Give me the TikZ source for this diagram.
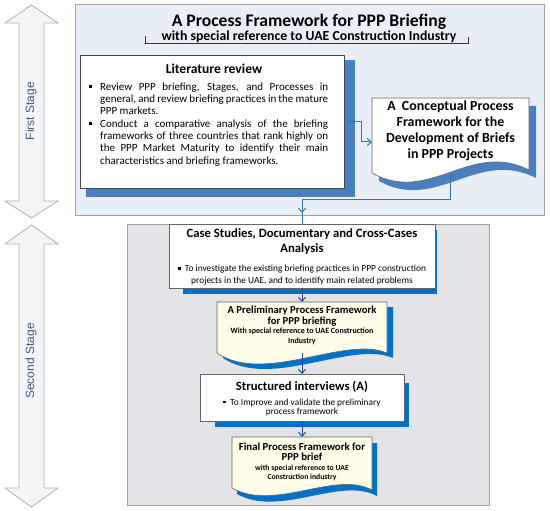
\documentclass[tikz,border=0pt]{standalone}
\usepackage{fontspec}
\setmainfont{Carlito}
\newfontfamily\arialfont{Liberation Sans}
\usetikzlibrary{arrows.meta}
\pgfdeclarelayer{panel}
\pgfdeclarelayer{shadow}
\pgfdeclarelayer{shape}
\pgfsetlayers{panel,shadow,shape,main}
\definecolor{toppanelfill}{RGB}{233,239,247}
\definecolor{botpanelfill}{RGB}{226,228,232}
\definecolor{panelline}{RGB}{160,160,160}
\definecolor{topshadowc}{RGB}{74,126,190}
\definecolor{lowshadowc}{RGB}{0,112,200}
\definecolor{creamfill}{RGB}{255,252,232}
\definecolor{toparrowc}{RGB}{49,120,160}
\definecolor{lowarrowc}{RGB}{35,70,150}
\definecolor{stagefill}{RGB}{244,245,247}
\definecolor{stageline}{RGB}{165,178,192}
\definecolor{stagetextc}{RGB}{60,90,125}
\definecolor{boxline}{RGB}{100,100,100}
\newcommand\bsq{\raisebox{1.8pt}{\rule{2.6pt}{2.6pt}}}
\newcommand\bitem[1]{\hangindent=11pt\hangafter=1\noindent\makebox[11pt][l]{\raisebox{2.2pt}{\rule{2.8pt}{2.8pt}}}#1\par}
\begin{document}
\begin{tikzpicture}[x=1pt,y=-1pt,
  stagearrow/.style={fill=stagefill,draw=stageline,line width=0.8pt},
  stagetext/.style={font=\arialfont\fontsize{12}{14}\selectfont,text=stagetextc,rotate=90},
  toppanel/.style={fill=toppanelfill,draw=panelline,line width=0.8pt},
  botpanel/.style={fill=botpanelfill,draw=panelline,line width=0.8pt},
  holder/.style={draw=none,inner sep=0pt,outer sep=0pt},
  litbox/.style={fill=white,draw=boxline!70!black,line width=0.9pt,inner sep=0pt,outer sep=0pt},
  lowbox/.style={fill=white,draw=boxline,line width=0.6pt,inner sep=0pt,outer sep=0pt},
  docshape/.style={draw=boxline,line width=0.6pt},
  topsh/.style={fill=topshadowc},
  lowsh/.style={fill=lowshadowc},
  toparrow/.style={draw=toparrowc,line width=1pt,-{Straight Barb[length=4pt,width=7pt]}},
  topline/.style={draw=toparrowc,line width=1pt},
  lowarrow/.style={draw=lowarrowc,line width=1pt,-{Straight Barb[length=4pt,width=7pt]}},
  txt/.style={inner sep=0pt,align=center}
]
\useasboundingbox (0,0) rectangle (550,511);

% stage arrows
\draw[stagearrow] (31.5,5) -- (58,23) -- (44,23) -- (44,201) -- (58,201) -- (31.5,218) -- (5,201) -- (19,201) -- (19,23) -- (5,23) -- cycle;
\node[stagetext] (firstlbl) at (31,111) {First Stage};
\draw[stagearrow] (31.5,225) -- (58,244) -- (44,244) -- (44,488) -- (58,488) -- (31.5,507) -- (5,488) -- (19,488) -- (19,244) -- (5,244) -- cycle;
\node[stagetext] (secondlbl) at (31,361) {Second Stage};

% panels
\begin{pgfonlayer}{panel}
\draw[toppanel] (75,4) rectangle (544,215);
\draw[botpanel] (127,224) rectangle (489,505);
\end{pgfonlayer}

% title
\node[txt,font=\bfseries\fontsize{17.6}{19}\selectfont] (title) at (309,22) {A Process Framework for PPP Briefing};
\node[txt,font=\bfseries\fontsize{13.8}{15}\selectfont] (subtitle) at (309,37) {with special reference to UAE Construction Industry};
\draw[line width=0.7pt,draw=black!80] (145,36) -- (145,43) -- (468,43) -- (468,37);

% literature review
\node[litbox,minimum width=264pt,minimum height=133pt] (lit) at (212,121.5) {};
\begin{pgfonlayer}{shadow}
\fill[topsh] ([xshift=6pt,yshift=-5pt]lit.north west) rectangle ([xshift=11pt,yshift=-9pt]lit.south east);
\end{pgfonlayer}
\node[txt,font=\bfseries\fontsize{13.6}{16}\selectfont] (littitle) at (214,69) {Literature review};
\node[anchor=north west,inner sep=0pt,text width=239pt,align=justify,font=\fontsize{11}{12.3}\selectfont] (litbody) at (89,82.5)
{\hyphenpenalty=10000\exhyphenpenalty=10000%
\bitem{Review PPP briefing, Stages, and Processes in general, and review briefing practices in the mature PPP markets.}%
\bitem{Conduct a comparative analysis of the briefing frameworks of three countries that rank highly on the PPP Market Maturity to identify their main characteristics and briefing frameworks.}};

% conceptual framework (document)
\node[holder,minimum width=157pt,minimum height=88pt] (concept) at (450.5,142) {};
\begin{pgfonlayer}{shadow}
\fill[topsh] (379,106) -- (536,106) -- (536,178) .. controls (477,148) and (437,213) .. (379,181) -- cycle;
\end{pgfonlayer}
\begin{pgfonlayer}{shape}
\filldraw[docshape,fill=white] (372,98) -- (529,98) -- (529,170) .. controls (470,140) and (430,205) .. (372,173) -- cycle;
\end{pgfonlayer}
\node[txt,font=\bfseries\fontsize{13.9}{16}\selectfont] (concepttxt) at (450.5,131) {A\ \ Conceptual Process\\Framework for the\\Development of Briefs\\in PPP Projects};

% case studies
\node[lowbox,minimum width=266pt,minimum height=64pt] (case) at (302,256) {};
\begin{pgfonlayer}{shadow}
\fill[lowsh] ([xshift=14pt,yshift=-6pt]case.north west) rectangle ([xshift=2pt,yshift=-6pt]case.south east);
\end{pgfonlayer}
\node[txt,font=\bfseries\fontsize{12.7}{15}\selectfont] (casetitle) at (302,241.5) {Case Studies, Documentary and Cross-Cases\\Analysis};
\node[txt,font=\fontsize{9.4}{12}\selectfont] (casebody) at (302,275) {\bsq\ \ To investigate the existing briefing practices in PPP construction\\projects in the UAE, and to identify main related problems};

% preliminary framework (document)
\node[holder,minimum width=170pt,minimum height=51pt] (prelim) at (302,327.5) {};
\begin{pgfonlayer}{shadow}
\fill[lowsh] (223,307) -- (393,307) -- (393,358) .. controls (351,340) and (271,390) .. (223,358) -- cycle;
\end{pgfonlayer}
\begin{pgfonlayer}{shape}
\filldraw[docshape,fill=creamfill] (217,302) -- (387,302) -- (387,353) .. controls (345,335) and (265,385) .. (217,353) -- cycle;
\end{pgfonlayer}
\node[txt,font=\bfseries\fontsize{10.7}{11}\selectfont] (prelimtitle) at (302,316) {A Preliminary Process Framework\\for PPP briefing};
\node[txt,font=\bfseries\fontsize{8}{10}\selectfont] (prelimsub) at (302,336.5) {With special reference to UAE Construction\\Industry};

% structured interviews
\node[lowbox,minimum width=204pt,minimum height=47pt] (struct) at (302,397.5) {};
\begin{pgfonlayer}{shadow}
\fill[lowsh] ([xshift=15pt,yshift=-9pt]struct.north west) rectangle ([xshift=5pt,yshift=-6pt]struct.south east);
\end{pgfonlayer}
\node[txt,font=\bfseries\fontsize{12.7}{14}\selectfont] (structtitle) at (302,387) {Structured interviews (A)};
\node[txt,font=\fontsize{9.3}{9.5}\selectfont] (structbody) at (302,407.5) {\bsq\ \ To Improve and validate the preliminary\\process framework};

% final framework (document)
\node[holder,minimum width=140pt,minimum height=51pt] (final) at (302,462.5) {};
\begin{pgfonlayer}{shadow}
\fill[lowsh] (237,443) -- (377,443) -- (377,496) .. controls (340,476) and (280,518) .. (237,494) -- cycle;
\end{pgfonlayer}
\begin{pgfonlayer}{shape}
\filldraw[docshape,fill=creamfill] (232,437) -- (372,437) -- (372,490) .. controls (335,470) and (275,512) .. (232,488) -- cycle;
\end{pgfonlayer}
\node[txt,font=\bfseries\fontsize{10.8}{10}\selectfont] (finaltitle) at (302,452) {Final Process Framework for\\PPP brief};
\node[txt,font=\bfseries\fontsize{7.7}{9}\selectfont] (finalsub) at (302,472.5) {with special reference to UAE\\Construction industry};

% connectors
\draw[toparrow] (lit.east) -- ++(17,0) |- (concept.west);
\draw[toparrow] ([yshift=12pt]concept.south) -- ++(0,26) -| ([yshift=11pt]case.north);
\draw[topline] ([yshift=11pt]case.north) -- (case.north);
\draw[lowarrow] (case.south) -- (prelim.north);
\draw[lowarrow] (prelim.south) -- (struct.north);
\draw[lowarrow] (struct.south) -- (final.north);
\end{tikzpicture}
\end{document}
